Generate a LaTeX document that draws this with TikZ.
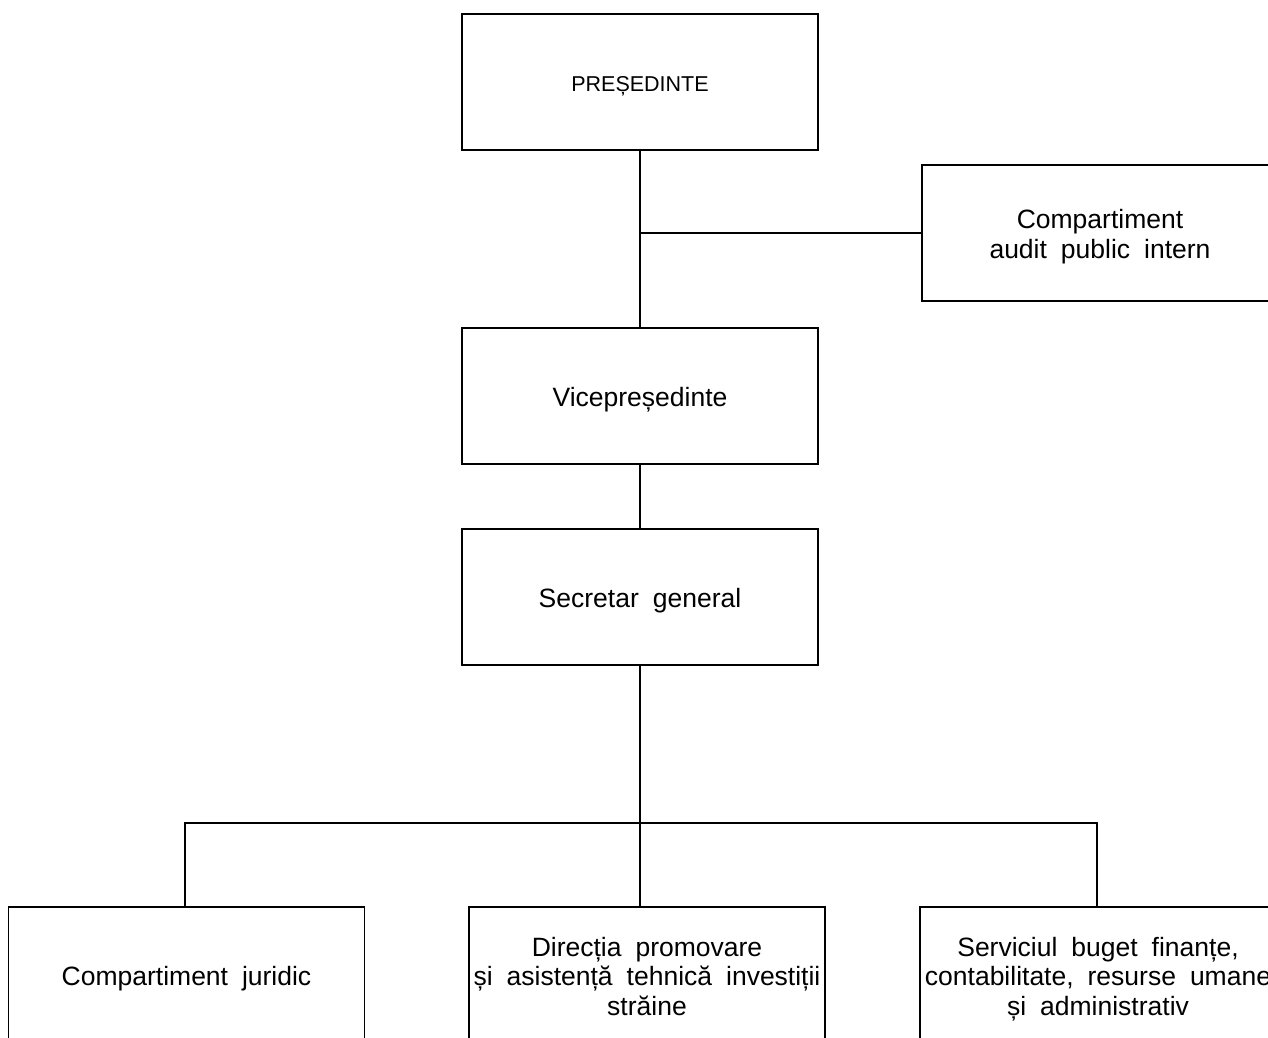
\documentclass[tikz,border=0pt]{standalone}
\usepackage{fontspec}
\setmainfont[WordSpace=1.9]{Liberation Sans}
\newcommand\boxtxt[2][-11pt]{\raisebox{#1}[0pt][0pt]{\begin{tabular}{@{}c@{}}#2\end{tabular}}}
\begin{document}
\begin{tikzpicture}[x=1pt,y=-1pt,
  box/.style={draw, line width=1.6pt, minimum width=356pt, minimum height=136pt,
    align=center, inner sep=0pt, font=\fontsize{26.5}{29.5}\selectfont},
  conn/.style={line width=1.6pt}]
\useasboundingbox (0,0) rectangle (1268,1037);
\clip (0,0) rectangle (1268,1037);
\node[box, font=\fontsize{21.5}{26}\selectfont] (pres) at (640,82) {\boxtxt[-9.5pt]{PREȘEDINTE}};
\node[box] (audit) at (1100,233) {\boxtxt{Compartiment\\audit public intern}};
\node[box] (vice) at (640,396) {\boxtxt{Vicepreședinte}};
\node[box] (sec) at (640,597) {\boxtxt{Secretar general}};
\node[box] (jur) at (186.5,975) {\boxtxt{Compartiment juridic}};
\node[box] (dir) at (647,975) {\boxtxt{Direcția promovare\\și asistență tehnică investiții\\străine}};
\node[box] (serv) at (1098,975) {\boxtxt{Serviciul buget finanțe,\\contabilitate, resurse umane\\și administrativ}};
\coordinate (bus) at (640,823);
\draw[conn] (pres.south) -- (vice.north);
\draw[conn] (audit.west) -- (audit.west -| pres.south);
\draw[conn] (vice.south) -- (sec.north);
\draw[conn] (sec.south) -- (sec.south |- dir.north);
\draw[conn] (185,0 |- jur.north) -- (185,0 |- bus) -- (1097,0 |- bus) -- (1097,0 |- serv.north);
\end{tikzpicture}
\end{document}
